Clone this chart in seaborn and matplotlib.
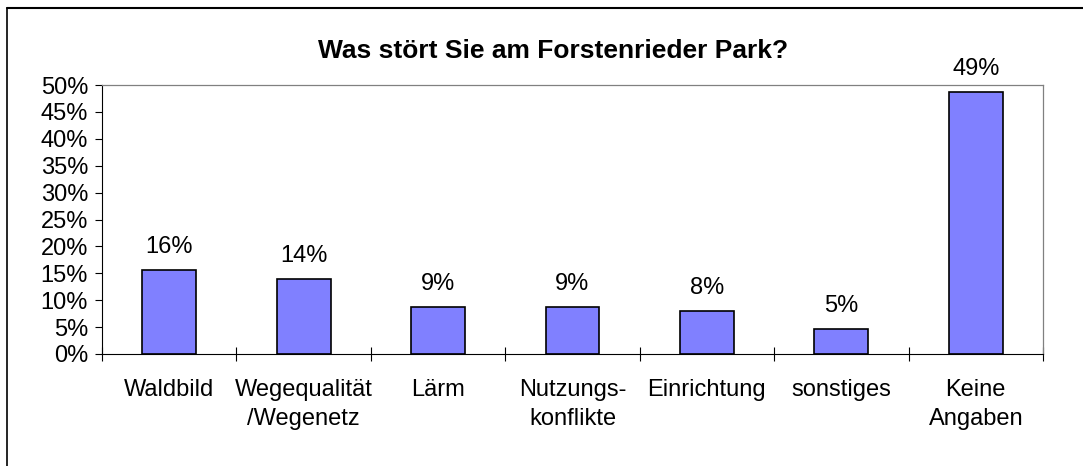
import matplotlib
matplotlib.use("Agg")
import matplotlib.pyplot as plt
from matplotlib.lines import Line2D
import seaborn as sns
import pandas as pd

categories = ["Waldbild", "Wegequalität\n/Wegenetz", "Lärm", "Nutzungs-\nkonflikte",
              "Einrichtung", "sonstiges", "Keine\nAngaben"]
values = [15.7, 13.9, 8.8, 8.8, 8.0, 4.7, 48.7]
y_ticks = [0, 5, 10, 15, 20, 25, 30, 35, 40, 45, 50]
title = "Was stört Sie am Forstenrieder Park?"

sns.set_style("white")
plt.rcParams["font.family"] = ["Liberation Sans", "DejaVu Sans"]
plt.rcParams["text.color"] = "black"
plt.rcParams["xtick.color"] = "black"
plt.rcParams["ytick.color"] = "black"
plt.rcParams["axes.labelcolor"] = "black"

df = pd.DataFrame({"cat": categories, "val": values})

fig = plt.figure(figsize=(10.83, 4.66), dpi=100)
ax = fig.add_axes([102 / 1083, 1 - 354 / 466, (1043 - 102) / 1083, (354 - 85) / 466])

sns.barplot(data=df, x="cat", y="val", color="#8080FF", edgecolor="black",
            linewidth=1.2, width=0.4, saturation=1, ax=ax)

ax.set_xlim(-0.5, len(categories) - 0.5)
ax.set_ylim(0, 50)
ax.set_yticks(y_ticks)
ax.set_yticklabels([f"{t}%" for t in y_ticks], fontsize=17, color="black")
ax.set_xticks(range(len(categories)))
ax.set_xticklabels(categories, fontsize=17, linespacing=1.42, color="black")
ax.set_xticks([i - 0.5 for i in range(len(categories) + 1)], minor=True)
ax.tick_params(axis="x", which="major", length=0, pad=18, bottom=True)
ax.tick_params(axis="x", which="minor", length=10, width=0.8, direction="inout",
               color="black", bottom=True)
ax.tick_params(axis="y", which="major", length=5, width=0.8, direction="out", left=True,
               color="black", pad=5)
ax.set_xlabel("")
ax.set_ylabel("")

for s in ["left", "bottom"]:
    ax.spines[s].set_color("black")
    ax.spines[s].set_linewidth(0.8)
for s in ["top", "right"]:
    ax.spines[s].set_color("#808080")
    ax.spines[s].set_linewidth(0.9)
    ax.spines[s].set_visible(True)

for i, v in enumerate(values):
    ax.annotate(f"{round(v):.0f}%", xy=(i, v), xytext=(0, 12.2), textcoords="offset points",
                ha="center", va="baseline", fontsize=17, color="black")

fig.text(553 / 1083, 1 - 58 / 466, title, fontsize=19, fontweight="bold",
         ha="center", va="baseline", color="black")

# figure border (top and left visible)
fig.add_artist(Line2D([7 / 1083, 1.0], [1 - 8 / 466, 1 - 8 / 466], color="black", lw=1.5,
                      transform=fig.transFigure))
fig.add_artist(Line2D([7 / 1083, 7 / 1083], [0.0, 1 - 8 / 466], color="black", lw=1.2,
                      transform=fig.transFigure))

fig.savefig("out.png", dpi=100)
